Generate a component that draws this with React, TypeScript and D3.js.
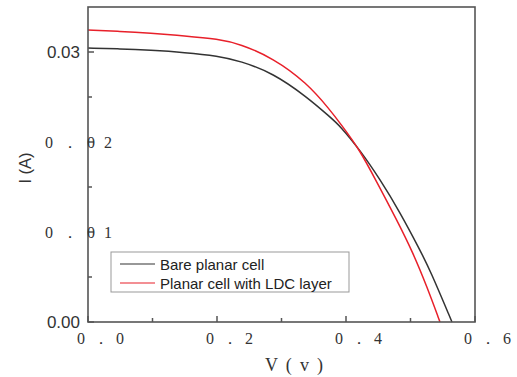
import React from 'react';
import * as d3 from 'd3';

// I-V data (V in volts, I in amps)
const bareV = [0, 0.05, 0.096, 0.15, 0.2016, 0.2357, 0.2868, 0.3395, 0.3752, 0.3907, 0.4217, 0.4527, 0.4837, 0.5147, 0.5302, 0.5643];
const bareI = [0.03044, 0.03035, 0.0302, 0.02995, 0.02956, 0.0290, 0.02767, 0.0250, 0.02278, 0.0218, 0.0191, 0.01585, 0.0122, 0.0080, 0.00578, 0];
const ldcV = [0, 0.05, 0.096, 0.15, 0.2016, 0.2357, 0.2868, 0.3395, 0.3752, 0.3907, 0.4217, 0.448, 0.479, 0.504, 0.5256, 0.5457];
const ldcI = [0.03244, 0.0323, 0.0321, 0.0318, 0.03144, 0.0309, 0.02933, 0.02656, 0.02356, 0.02211, 0.0191, 0.0155, 0.0113, 0.00767, 0.0039, 0];

const xMajor = [0, 0.2, 0.4, 0.6];
const xMinor = [0.1, 0.3, 0.5];
const xTickLabels = ['0．0', '0．2', '0．4', '0．6'];
const yMajor = [0, 0.01, 0.02, 0.03];
const yMinor = [0.005, 0.015, 0.025];
const yTickLabels = ['0.00', '0．01', '0．02', '0.03'];
const seriesNames = ['Bare planar cell', 'Planar cell with LDC layer'];
const seriesColors = ['#333333', '#e8202a'];

const W = 517, H = 377;
const m = { left: 88, right: 42, top: 7, bottom: 55 };

export default function App() {
  const x = d3.scaleLinear().domain([0, 0.6]).range([m.left, W - m.right]);
  const y = d3.scaleLinear().domain([0, 0.035]).range([H - m.bottom, m.top]);
  const line = d3.line<[number, number]>()
    .x(d => x(d[0]))
    .y(d => y(d[1]))
    .curve(d3.curveBasis);

  const series = [
    bareV.map((v, i) => [v, bareI[i]] as [number, number]),
    ldcV.map((v, i) => [v, ldcI[i]] as [number, number]),
  ];

  const y0 = y(0);
  const serif = '"Liberation Serif", "DejaVu Serif", serif';
  const sans = '"Liberation Sans", Arial, sans-serif';

  return (
    <svg width={W} height={H} style={{ position: 'absolute', left: 0, top: 0, background: '#fff' }}>
      {/* curves */}
      {series.map((s, i) => (
        <path key={i} d={line(s) || ''} fill="none" stroke={seriesColors[i]} strokeWidth={1.5} />
      ))}

      {/* frame */}
      <rect x={x(0)} y={y(0.035)} width={x(0.6) - x(0)} height={y0 - y(0.035)}
        fill="none" stroke="#555" strokeWidth={1.6} />

      {/* ticks, pointing inward */}
      {xMajor.map(v => <line key={'xM' + v} x1={x(v)} x2={x(v)} y1={y0} y2={y0 - 6} stroke="#555" strokeWidth={1.5} />)}
      {xMinor.map(v => <line key={'xm' + v} x1={x(v)} x2={x(v)} y1={y0} y2={y0 - 4} stroke="#555" strokeWidth={1.5} />)}
      {yMajor.map(v => <line key={'yM' + v} x1={x(0)} x2={x(0) + 6} y1={y(v)} y2={y(v)} stroke="#555" strokeWidth={1.5} />)}
      {yMinor.map(v => <line key={'ym' + v} x1={x(0)} x2={x(0) + 4} y1={y(v)} y2={y(v)} stroke="#555" strokeWidth={1.5} />)}

      {/* x tick labels */}
      {xMajor.map((v, i) => (
        <text key={'xl' + v} x={x(v) - 11} y={344} fontFamily={serif} fontSize={16} fill="#333"
          textLength={47} lengthAdjust="spacing">{xTickLabels[i]}</text>
      ))}

      {/* y tick labels */}
      {yMajor.map((v, i) => {
        const lab = yTickLabels[i];
        if (lab.includes('．')) {
          return (
            <text key={'yl' + v} x={45} y={y(v) + 6} fontFamily={serif} fontSize={16} fill="#333"
              textLength={67} lengthAdjust="spacing">{lab}</text>
          );
        }
        return (
          <text key={'yl' + v} x={80} y={y(v) + 6} textAnchor="end" fontFamily={sans} fontSize={17} fill="#333">{lab}</text>
        );
      })}

      {/* axis titles */}
      <text x={265} y={371} fontFamily={serif} fontSize={18} fill="#333" textLength={58} lengthAdjust="spacing">V ( v )</text>
      <text transform="translate(31,168) rotate(-90)" textAnchor="middle" fontFamily={sans} fontSize={16.5} fill="#333">I (A)</text>

      {/* legend */}
      <rect x={111} y={252} width={238} height={40} fill="#fff" stroke="#999" strokeWidth={1} />
      {seriesNames.map((n, i) => (
        <g key={n}>
          <line x1={120} x2={155} y1={264 + i * 19} y2={264 + i * 19} stroke={seriesColors[i]} strokeWidth={1.2} />
          <text x={160} y={270 + i * 18.5} fontFamily={sans} fontSize={15} fill="#222">{n}</text>
        </g>
      ))}
    </svg>
  );
}
